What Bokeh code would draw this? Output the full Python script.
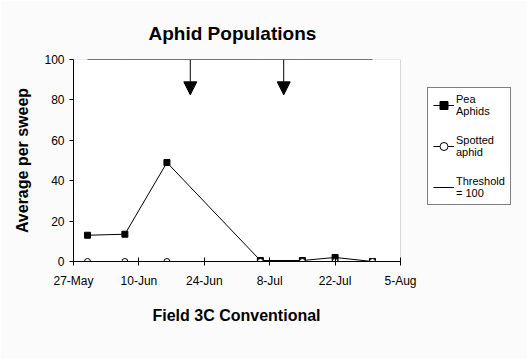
import pandas as pd
from bokeh.plotting import figure
from bokeh.models import (ColumnDataSource, Range1d, FixedTicker, Legend, LegendItem,
                          Arrow, NormalHead, BoxAnnotation, Title)
from bokeh.embed import file_html
from bokeh.resources import INLINE

# ---- data ----
sample_dates = ["2003-05-30", "2003-06-07", "2003-06-16", "2003-07-06",
                "2003-07-15", "2003-07-22", "2003-07-30"]
pea_aphids = [13, 13.5, 49, 0.5, 0.5, 2, 0]
spotted_aphid = [0, 0, 0, 0, 0, 0, 0]
threshold = [100, 100, 100, 100, 100, 100, 100]

spray_dates = ["2003-06-21", "2003-07-11"]
arrow_top = [100, 100]
arrow_tip = [82.5, 82.5]

tick_dates = ["2003-05-27", "2003-06-10", "2003-06-24", "2003-07-08",
              "2003-07-22", "2003-08-05"]
tick_labels = ["27-May", "10-Jun", "24-Jun", "8-Jul", "22-Jul", "5-Aug"]
y_ticks = [0, 20, 40, 60, 80, 100]

FONT = "Liberation Sans"
BG = "#FBFBFB"

def ms(dates):
    return [pd.Timestamp(d).value / 1e6 for d in dates]

x0, x1 = ms(tick_dates)[0], ms(tick_dates)[-1]
W, H, LEFT, PLOT_W = 527, 359, 73, 327
# frame extends to the right edge so the legend can sit inside it
x_end = x1 + (W - LEFT - PLOT_W) / PLOT_W * (x1 - x0)

src = ColumnDataSource(dict(x=pd.to_datetime(sample_dates), pea=pea_aphids,
                            spot=spotted_aphid, thr=threshold))

p = figure(width=W, height=H, x_axis_type="datetime",
           output_backend="svg", toolbar_location=None,
           x_range=Range1d(x0, x_end),
           y_range=Range1d(0, 100),
           min_border_left=LEFT, min_border_right=0,
           min_border_top=59, min_border_bottom=98,
           title="Aphid Populations")

p.background_fill_color = BG
p.border_fill_color = BG
p.outline_line_color = None
p.grid.visible = False

# visible plot area
p.add_layout(BoxAnnotation(left=x0, right=x1, bottom=0, top=100,
                           fill_color="white", fill_alpha=1,
                           line_color="#808080", line_width=1, level="underlay"))

p.title.align = "left"
p.title.offset = 75
p.title.text_font = FONT
p.title.text_font_size = "19px"
p.title.text_font_style = "bold"
p.title.text_color = "black"
p.title.standoff = 32

# series
r_thr = p.line("x", "thr", source=src, line_color="black", line_width=1)
r_pea_l = p.line("x", "pea", source=src, line_color="black", line_width=1)
r_pea_m = p.scatter("x", "pea", source=src, marker="square", size=6,
                    fill_color="black", line_color="black")
r_sp_l = p.line("x", "spot", source=src, line_color="black", line_width=1)
r_sp_m = p.scatter("x", "spot", source=src, marker="circle", size=6,
                   fill_color="white", line_color="black")

# arrows
asrc = ColumnDataSource(dict(x0=ms(spray_dates), y0=arrow_top,
                             x1=ms(spray_dates), y1=arrow_tip))
p.add_layout(Arrow(source=asrc, x_start="x0", y_start="y0", x_end="x1", y_end="y1",
                   line_color="black", line_width=1,
                   end=NormalHead(size=13, fill_color="black", line_color="black")))

# axes
xa = p.xaxis[0]
xa.bounds = (x0, x1)
xa.ticker = FixedTicker(ticks=ms(tick_dates))
xa.major_label_overrides = {t: l for t, l in zip(ms(tick_dates), tick_labels)}
xa.minor_tick_line_color = None
xa.major_tick_in = 4
xa.major_tick_out = 4
xa.major_label_standoff = 8

ya = p.yaxis[0]
ya.ticker = FixedTicker(ticks=y_ticks)
ya.minor_tick_line_color = None
ya.major_tick_in = 0
ya.major_tick_out = 4
ya.major_label_standoff = 5
ya.axis_label = "Average per sweep"
ya.axis_label_standoff = 10

for ax in (xa, ya):
    ax.axis_line_color = "black"
    ax.major_tick_line_color = "black"
    ax.major_label_text_font = FONT
    ax.major_label_text_font_size = "12px"
    ax.major_label_text_color = "black"
    ax.axis_label_text_font = FONT
    ax.axis_label_text_font_size = "16px"
    ax.axis_label_text_font_style = "bold"
    ax.axis_label_text_color = "black"

# x-axis title (placed below the axis, centred on the visible plot area)
p.add_layout(Title(text="Field 3C Conventional", align="left", offset=79,
                   text_font=FONT, text_font_size="16px", text_font_style="bold",
                   text_color="black", standoff=29), "below")

legend = Legend(items=[
    LegendItem(label="Pea\nAphids", renderers=[r_pea_l, r_pea_m]),
    LegendItem(label="Spotted\naphid", renderers=[r_sp_l, r_sp_m]),
    LegendItem(label="Threshold\n= 100", renderers=[r_thr]),
], location=(354, 56))
legend.border_line_color = "black"
legend.background_fill_color = "white"
legend.background_fill_alpha = 1
legend.label_text_font = FONT
legend.label_text_font_size = "11px"
legend.label_text_color = "black"
legend.glyph_width = 21
legend.label_standoff = 2
legend.padding = 5
legend.spacing = 17
legend.margin = 0
p.add_layout(legend, "center")

open("out.html", "w").write(file_html(p, INLINE))
